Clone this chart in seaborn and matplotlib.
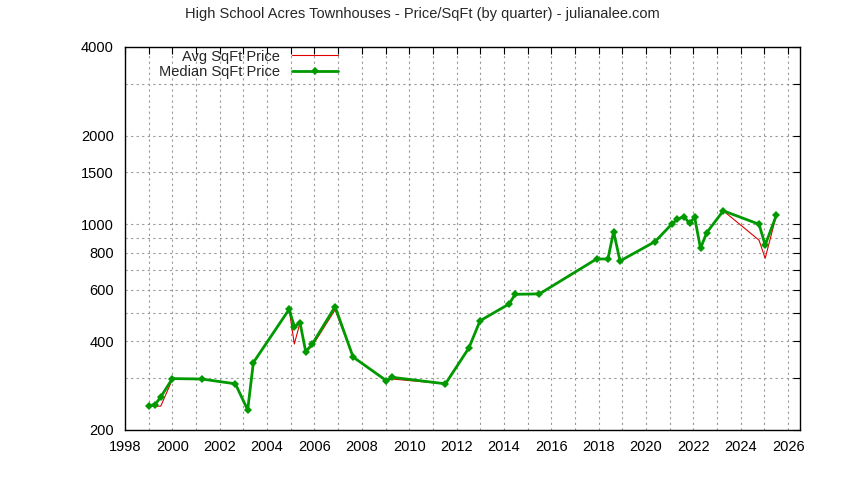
import matplotlib
matplotlib.use("Agg")
import matplotlib.pyplot as plt
import seaborn as sns
import numpy as np
import pandas as pd

years = [1999.03, 1999.27, 1999.51, 2000.0, 2001.24, 2002.66, 2003.18, 2003.42, 2004.93, 2005.15,
         2005.39, 2005.63, 2005.9, 2006.87, 2007.63, 2009.04, 2009.28, 2011.53, 2012.52, 2012.99,
         2014.22, 2014.47, 2015.5, 2017.91, 2018.39, 2018.63, 2018.9, 2020.38, 2021.08, 2021.32,
         2021.6, 2021.84, 2022.05, 2022.3, 2022.56, 2023.26, 2024.77, 2025.03, 2025.5]
median = [242, 244, 259, 299, 298, 287, 234, 339, 514, 449,
          463, 369, 391, 525, 354, 294, 302, 287, 380, 470,
          536, 578, 580, 762, 762, 944, 750, 873, 1000, 1040,
          1061, 1008, 1057, 828, 936, 1111, 1000, 850, 1072]
avg = [240, 241, 241, 297, 298, 287, 234, 339, 514, 392,
       463, 369, 385, 512, 354, 294, 298, 287, 380, 470,
       536, 578, 580, 762, 762, 944, 750, 873, 1000, 1040,
       1061, 1000, 1057, 828, 936, 1111, 883, 766, 1072]

df = pd.DataFrame({"year": years, "median": median, "avg": avg})

sns.set_style("white")
plt.rcParams["font.family"] = ["Liberation Sans", "DejaVu Sans"]
fig = plt.figure(figsize=(8.44, 4.8), dpi=100)
ax = fig.add_axes([125/844, 1-430/480, 675/844, 383/480])

sns.lineplot(data=df, x="year", y="avg", ax=ax, color="#dd0000", lw=0.8, label="Avg SqFt Price", sort=False)
sns.lineplot(data=df, x="year", y="median", ax=ax, color="#009900", lw=2, marker="D", markersize=4,
             markeredgewidth=0, label="Median SqFt Price", sort=False)

ax.set_yscale("log")
ax.set_ylim(200, 4000)
ax.set_xlim(1998, 2026.5)
yt = [200, 300, 400, 500, 600, 700, 800, 900, 1000, 1500, 2000, 3000, 4000]
lab = {200: "200", 400: "400", 600: "600", 800: "800", 1000: "1000", 1500: "1500", 2000: "2000", 4000: "4000"}
ax.set_yticks(yt)
ax.set_yticklabels([lab.get(v, "") for v in yt])
ax.yaxis.set_minor_locator(matplotlib.ticker.NullLocator())
ax.set_xticks(np.arange(1998, 2027, 1))
ax.set_xticklabels([str(y) if y % 2 == 0 else "" for y in range(1998, 2027)])
ax.grid(True, color="#999999", ls=(0, (2, 3)), lw=0.8)
ax.tick_params(axis="both", direction="in", length=5, labelsize=10.5, colors="black", right=True, top=True)
ax.tick_params(axis="x", pad=7)
ax.tick_params(axis="y", pad=8)
for s in ax.spines.values():
    s.set_color("black"); s.set_linewidth(1)
ax.set_xlabel(""); ax.set_ylabel("")
ax.legend(loc="upper left", frameon=False, markerfirst=False, fontsize=10.5,
          bbox_to_anchor=(0.035, 1.02), handlelength=3.2, borderpad=0.2, labelspacing=0.1)
fig.suptitle("High School Acres Townhouses - Price/SqFt (by quarter) - julianalee.com", y=0.985, fontsize=10.5)
fig.savefig("out.png", dpi=100)
